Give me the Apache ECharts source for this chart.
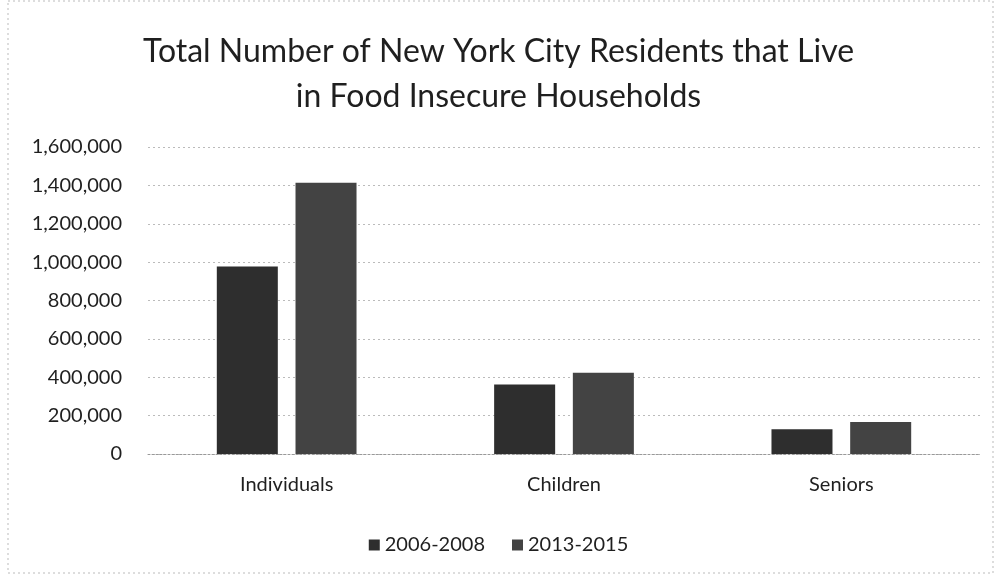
<!DOCTYPE html>
<html><head><meta charset="utf-8">
<script src="https://cdn.jsdelivr.net/npm/echarts@6/dist/echarts.min.js"></script>
<style>html,body{margin:0;padding:0;background:#fff}#c{width:997px;height:575px}</style>
</head><body><div id="c"></div>
<script>
const categories = ["Individuals", "Children", "Seniors"];
const seriesNames = ["2006-2008", "2013-2015"];
const values2006 = [977000, 362000, 129000];
const values2013 = [1414000, 423000, 167000];
const yTicks = [0, 1600000, 200000];

const chart = echarts.init(document.getElementById('c'), null, {renderer: 'canvas'});
const font = 'Lato, "Open Sans", sans-serif';
chart.setOption({
  animation: false,
  backgroundColor: '#fff',
  title: {
    text: 'Total Number of New York City Residents that Live\nin Food Insecure Households',
    left: 'center', top: 24,
    textStyle: {fontFamily: font, fontSize: 32, fontWeight: 'normal', color: '#1f1f1f', lineHeight: 45}
  },
  graphic: [{type: 'rect', shape: {x: 8, y: 1, width: 985, height: 572},
    style: {fill: 'none', stroke: '#bbb', lineWidth: 1, lineDash: [2, 3]}, silent: true}],
  legend: {
    top: 530, left: 'center', itemWidth: 11, itemHeight: 11, itemGap: 27,
    icon: 'rect',
    textStyle: {fontFamily: font, fontSize: 20, color: '#1f1f1f'},
    data: seriesNames
  },
  grid: {left: 148, right: 17, top: 147, bottom: 121, containLabel: false},
  xAxis: {
    type: 'category', data: categories,
    axisLine: {lineStyle: {color: '#999', type: [2, 2]}},
    axisTick: {show: false},
    axisLabel: {fontFamily: font, fontSize: 20, color: '#1f1f1f', margin: 21}
  },
  yAxis: {
    type: 'value', min: yTicks[0], max: yTicks[1], interval: yTicks[2],
    axisLine: {show: false}, axisTick: {show: false},
    splitLine: {lineStyle: {color: '#bbb', type: [2, 3]}},
    axisLabel: {fontFamily: font, fontSize: 20, color: '#1f1f1f', margin: 26,
      formatter: v => v.toLocaleString('en-US')}
  },
  series: [
    {name: seriesNames[0], type: 'bar', data: values2006, barWidth: '22%', barGap: '29%',
     itemStyle: {color: '#2e2e2e'}},
    {name: seriesNames[1], type: 'bar', data: values2013, barWidth: '22%', barGap: '29%',
     itemStyle: {color: '#434343'}}
  ]
});
</script></body></html>
